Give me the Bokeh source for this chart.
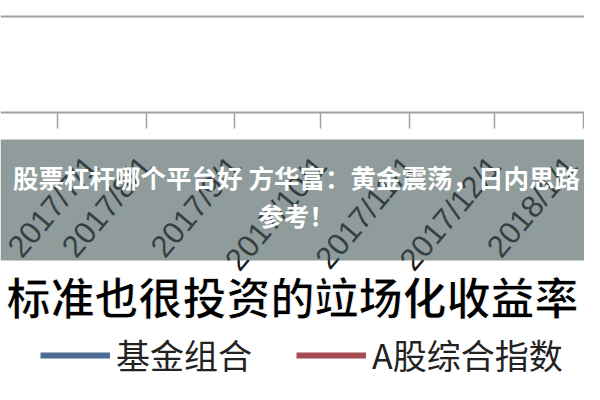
from datetime import datetime, timezone
from bokeh.plotting import figure
from bokeh.models import (Range1d, FixedTicker, BoxAnnotation, Label, Legend,
                          LegendItem, ColumnDataSource)
from bokeh.embed import file_html
from bokeh.resources import INLINE

# ---- data -------------------------------------------------------------
tick_dates = [(2017, 7, 1), (2017, 8, 1), (2017, 9, 1), (2017, 10, 1),
              (2017, 11, 1), (2017, 12, 1), (2018, 1, 1)]
tick_labels = ["2017/7/1", "2017/8/1", "2017/9/1", "2017/10/1",
               "2017/11/1", "2017/12/1", "2018/1/1"]
series_names = ["基金组合", "A股综合指数"]
series_colors = ["#4e6d96", "#a64b52"]
# the two curves lie outside the cropped picture: their values cannot be read
fund_dates, fund_values = [(2017, 7, 1)], [float("nan")]
index_dates, index_values = [(2017, 7, 1)], [float("nan")]

banner_text = "股票杠杆哪个平台好 方华富：黄金震荡，日内思路\n参考！"
caption_text = "标准也很投资的竝场化收益率"


def ms(d):
    return datetime(*d, tzinfo=timezone.utc).timestamp() * 1000.0


tick_ms = [ms(d) for d in tick_dates]
day = 86400000.0
px_per_day = (583 - 57) / ((tick_ms[-1] - tick_ms[0]) / day)
x_start = tick_ms[0] - 57 / px_per_day * day
x_end = tick_ms[-1] + 1 / px_per_day * day

W, H = 584, 384
AXIS_Y = 112          # pixel row of the x axis line


def ydata(row):
    # y data units are pixels measured upward from the axis line
    return AXIS_Y - row


p = figure(width=W, height=H, x_axis_type="datetime",
           x_range=Range1d(x_start, x_end),
           y_range=Range1d(AXIS_Y - H, AXIS_Y),
           toolbar_location=None, output_backend="svg",
           min_border=0)
p.outline_line_color = None
p.background_fill_color = "white"
p.border_fill_color = "white"

p.yaxis.visible = False
p.xgrid.visible = False
p.ygrid.ticker = FixedTicker(ticks=[ydata(16)])
p.ygrid.grid_line_color = "#a0a0a0"
p.ygrid.grid_line_width = 2

ax = p.xaxis[0]
ax.fixed_location = 0
ax.ticker = FixedTicker(ticks=tick_ms)
ax.major_label_overrides = {t: lab for t, lab in zip(tick_ms, tick_labels)}
ax.major_label_orientation = 0.87
ax.major_label_text_font = "Liberation Sans"
ax.major_label_text_font_size = "31px"
ax.major_label_text_color = "#1a1a1a"
ax.major_label_standoff = 32
ax.axis_line_color = "#a0a0a0"
ax.axis_line_width = 2
ax.major_tick_line_color = "#a0a0a0"
ax.major_tick_line_width = 1.5
ax.major_tick_out = 16
ax.major_tick_in = 0
ax.minor_tick_line_color = None

r_fund = p.line(x="date", y="value",
                source=ColumnDataSource(dict(date=[ms(d) for d in fund_dates],
                                             value=fund_values)),
                line_color=series_colors[0], line_width=6)
r_index = p.line(x="date", y="value",
                 source=ColumnDataSource(dict(date=[ms(d) for d in index_dates],
                                              value=index_values)),
                 line_color=series_colors[1], line_width=6)

# grey banner laid over the tick labels
banner = BoxAnnotation(top=ydata(139), bottom=ydata(260),
                       fill_color="#465a5a", fill_alpha=0.6, line_color=None)
p.add_layout(banner)

p.add_layout(Label(x=296, x_units="screen", y=ydata(195), text=banner_text,
                   text_align="center", text_baseline="middle",
                   text_font="Noto Sans CJK SC", text_font_style="bold",
                   text_font_size="25.5px", text_color="white",
                   text_line_height=1.05))

p.add_layout(Label(x=6, x_units="screen", y=ydata(295), text=caption_text,
                   text_align="left", text_baseline="middle",
                   text_font="Noto Sans CJK SC", text_font_style="bold",
                   text_font_size="44px",
                   text_color="black", text_outline_color="white"))

legend = Legend(items=[LegendItem(label=series_names[0], renderers=[r_fund]),
                       LegendItem(label=series_names[1], renderers=[r_index])],
                orientation="horizontal", location=(40, 5),
                label_text_font="Noto Sans CJK SC", label_text_font_size="34px",
                label_text_color="#222222", glyph_width=70, glyph_height=34,
                label_standoff=6, spacing=44, padding=0, margin=0,
                background_fill_alpha=0, border_line_color=None)
p.add_layout(legend)

open("out.html", "w").write(file_html(p, INLINE))
